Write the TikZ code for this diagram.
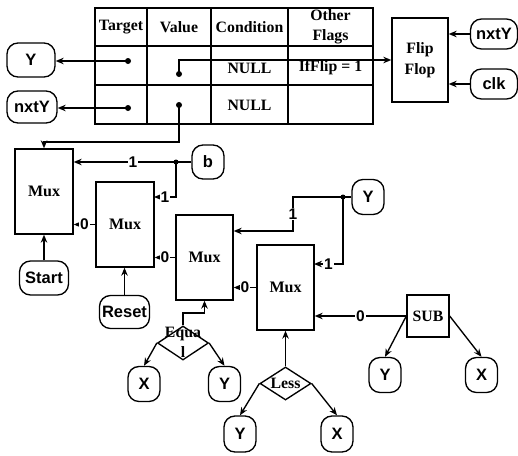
\documentclass[tikz,border=0pt]{standalone}
\usepackage{fontspec}
\setmainfont{Liberation Serif}
\setsansfont{Liberation Sans}
\usetikzlibrary{shapes.geometric,arrows.meta}
\begin{document}
\begin{tikzpicture}[x=1pt,y=-1pt, line width=1.35pt,
  >={Stealth[length=8pt,width=6.5pt]},
  oval/.style={draw, rounded corners=11pt, font=\sffamily\bfseries\fontsize{16.5}{18}\selectfont, inner sep=0pt},
  mux/.style={draw, font=\bfseries\fontsize{16}{17}\selectfont, minimum width=57pt, minimum height=85pt, inner sep=0pt, align=center},
  tt/.style={font=\bfseries\fontsize{15.8}{20.5}\selectfont, align=center, inner sep=0pt},
  dia/.style={draw, diamond, inner sep=0pt, minimum width=51pt, minimum height=34pt},
  dot/.style={circle, fill, inner sep=0pt, minimum size=6pt},
  lab/.style={fill=white, font=\sffamily\bfseries\fontsize{15.5}{16}\selectfont, inner sep=1pt}
]
\useasboundingbox (0,0) rectangle (518,455);

% table
\draw[line width=1.5pt] (95,8) rectangle (373,124);
\draw[line width=1.5pt] (95,46) -- (373,46) (95,85) -- (373,85)
  (147,8) -- (147,124) (211,8) -- (211,124) (288,8) -- (288,124);
\node[tt] (hT) at (121,27) {Target};
\node[tt] (hV) at (179,27) {Value};
\node[tt] (hC) at (249.5,27) {Condition};
\node[tt] (hO) at (330.5,27) {Other\\Flags};
\node[tt] (n1) at (249.5,68) {NULL};
\node[tt] (f1) at (330.5,68) {IfFlip = 1};
\node[tt] (n2) at (249.5,105) {NULL};
\node[dot] (d1) at (128,61) {};
\node[dot] (d2) at (128,108) {};
\node[dot] (v1) at (179,74) {};
\node[dot] (v2) at (179,105) {};

% left ovals
\node[oval, minimum width=48pt, minimum height=34pt] (Y1) at (31,60) {Y};
\node[oval, minimum width=50pt, minimum height=32pt] (nxtY1) at (32,107) {nxtY};

% flip flop
\node[draw, tt, minimum width=56pt, minimum height=84pt] (flip) at (420,60) {Flip\\Flop};
\node[oval, minimum width=47pt, minimum height=30pt] (nxtY2) at (494,34) {nxtY};
\node[oval, minimum width=47pt, minimum height=30pt] (clk) at (494,84) {clk};

% muxes
\node[mux, minimum width=58pt] (mux1) at (44,191.5) {Mux};
\node[mux, minimum width=58pt] (mux2) at (125,224.5) {Mux};
\node[mux] (mux3) at (204.5,257.5) {Mux};
\node[mux] (mux4) at (285.5,287.5) {Mux};
\node[draw, tt, minimum width=42pt, minimum height=42pt] (sub) at (428,316) {SUB};

\node[oval, minimum width=32pt, minimum height=34pt] (b) at (208,162) {b};
\node[oval, minimum width=32pt, minimum height=35pt] (Y2) at (368,197) {Y};
\node[oval, minimum width=49pt, minimum height=34pt] (start) at (44,278) {Start};
\node[oval, minimum width=50pt, minimum height=33pt] (reset) at (124.5,312) {Reset};

% diamonds
\node[dia] (eqD) at (183,343) {};
\node[tt] (eqT) at (183,342.5) {Equa\\l};
\node[dia, minimum height=33pt] (lessD) at (285.5,383.5) {};
\node[tt] (lessT) at (285.5,383.5) {Less};

\node[oval, minimum width=32pt, minimum height=35pt] (eqX) at (144,384) {X};
\node[oval, minimum width=32pt, minimum height=35pt] (eqY) at (224.5,384) {Y};
\node[oval, minimum width=32pt, minimum height=36pt] (lessY) at (240,434) {Y};
\node[oval, minimum width=32pt, minimum height=36pt] (lessX) at (337,434) {X};
\node[oval, minimum width=32pt, minimum height=35pt] (subY) at (385,375) {Y};
\node[oval, minimum width=32pt, minimum height=35pt] (subX) at (481.5,375) {X};

% table connectors
\draw[->] (d1.center) -- (Y1.east |- d1);
\draw[->] (d2.center) -- (nxtY1.east |- d2);
\draw[->] (v1.center) |- (flip.west);
\coordinate (c2) at (179,142);
\draw[->] (v2.center) -- (c2) -| (mux1.north);
\draw[->] (nxtY2.west) -- (flip.east |- nxtY2.west);
\draw[->] (clk.west) -- (flip.east |- clk.west);

% b input
\node[dot, minimum size=5pt] (j1) at (176,162) {};
\draw (b.west) -- (j1.center);
\draw[->] (j1.center) -- node[lab, pos=0.42]{1} (mux1.east |- j1);
\coordinate (m2in) at (154,197);
\draw[->] (j1.center) |- node[lab, pos=0.75]{1} (m2in);

% Y2 input
\node[dot, minimum size=5pt] (j2) at (343,197) {};
\draw (Y2.west) -- (j2.center);
\coordinate (k1) at (293,197);
\coordinate (k2) at (293,231);
\draw[->] (j2.center) -- (k1) -- node[lab]{1} (k2) -- (mux3.east |- k2);
\coordinate (m4in) at (314,264);
\draw[->] (j2.center) |- node[lab, pos=0.75]{1} (m4in);

% mux chain
\draw[->] (mux2.west) -- node[lab]{0} (mux1.east |- mux2.west);
\draw[->] (mux3.west) -- node[lab]{0} (mux2.east |- mux3.west);
\draw[->] (mux4.west) -- node[lab]{0} (mux3.east |- mux4.west);
\draw[->] (sub.west) -- node[lab]{0} (mux4.east |- sub.west);

% selects
\draw[->] (start.north) -- (mux1.south);
\draw[->] (reset.north) -- (reset.north |- mux2.south);
\coordinate (e1) at (183,313);
\draw[->] (eqD.north) -- (e1) -| (mux3.south);
\draw[->] (lessD.north) -- (lessD.north |- mux4.south);

% comparator inputs
\draw[->] (eqD.west) -- (eqX.north);
\draw[->] (eqD.east) -- (eqY.north);
\draw[->] (lessD.west) -- (lessY.north);
\draw[->] (lessD.east) -- (lessX.north);
\draw[->] (sub.west) -- (subY.north);
\draw[->] (sub.east) -- (subX.north);
\end{tikzpicture}
\end{document}
